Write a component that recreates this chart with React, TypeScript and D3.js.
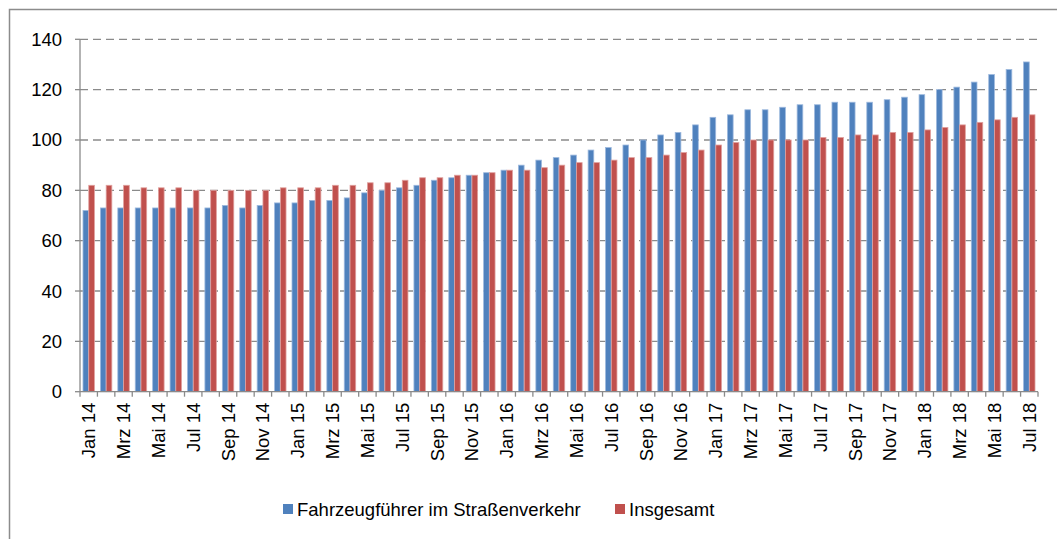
import React from "react";
import * as d3 from "d3";

const years = ["14", "15", "16", "17", "18"];
const monthNames = ["Jan", "Feb", "Mrz", "Apr", "Mai", "Jun", "Jul", "Aug", "Sep", "Okt", "Nov", "Dez"];
const categories: string[] = [];
years.forEach((y, yi) => {
  const n = yi === 4 ? 7 : 12;
  for (let m = 0; m < n; m++) categories.push(`${monthNames[m]} ${y}`);
});

const fahrzeugfuehrer = [
  72, 73, 73, 73, 73, 73, 73, 73, 74, 73, 74, 75,
  75, 76, 76, 77, 79, 80, 81, 82, 84, 85, 86, 87,
  88, 90, 92, 93, 94, 96, 97, 98, 100, 102, 103, 106,
  109, 110, 112, 112, 113, 114, 114, 115, 115, 115, 116, 117,
  118, 120, 121, 123, 126, 128, 131,
];
const insgesamt = [
  82, 82, 82, 81, 81, 81, 80, 80, 80, 80, 80, 81,
  81, 81, 82, 82, 83, 83, 84, 85, 85, 86, 86, 87,
  88, 88, 89, 90, 91, 91, 92, 93, 93, 94, 95, 96,
  98, 99, 100, 100, 100, 100, 101, 101, 102, 102, 103, 103,
  104, 105, 106, 107, 108, 109, 110,
];
const yTicks = [0, 20, 40, 60, 80, 100, 120, 140];
const seriesNames = ["Fahrzeugführer im Straßenverkehr", "Insgesamt"];
const colors = ["#4F81BD", "#C0504D"];
const edgeColors = ["#9DB9DE", "#E0A09E"];

export default function App() {
  const W = 1057, H = 539;
  const left = 80, right = 1038, top = 39.3, bottom = 391.7;
  const x = d3.scaleBand<string>().domain(categories).range([left, right]).paddingInner(0.33).paddingOuter(0.165);
  const xs = d3.scaleBand<string>().domain(["0", "1"]).range([0, x.bandwidth()]).padding(0.02);
  const y = d3.scaleLinear().domain([0, 140]).range([bottom, top]);
  const step = x.step();
  const font = "'Liberation Sans', Arial, sans-serif";
  const series = [fahrzeugfuehrer, insgesamt];
  const fs = 18.5;

  return (
    <svg width={W} height={H} style={{ position: "absolute", left: 0, top: 0 }} fontFamily={font}>
      <rect x={0} y={0} width={W} height={H} fill="#fff" />
      <rect x={9.5} y={9.5} width={1100} height={600} fill="none" stroke="#8c8c8c" strokeWidth={1.5} />
      {yTicks.map((t) => (
        <g key={t}>
          {t > 0 && (
            <line x1={left} x2={right} y1={y(t)} y2={y(t)} stroke="#8a8a8a" strokeWidth={1.3} strokeDasharray="8,5" />
          )}
          <line x1={left - 5} x2={left} y1={y(t)} y2={y(t)} stroke="#8a8a8a" strokeWidth={1.3} />
          <text x={62} y={y(t)} textAnchor="end" dominantBaseline="central" fontSize={fs} fill="#000">
            {t}
          </text>
        </g>
      ))}
      {series.map((vals, si) =>
        vals.map((v, i) => {
          const bx = (x(categories[i]) as number) + (xs(String(si)) as number);
          return (
            <rect
              key={`${si}-${i}`}
              x={bx}
              y={y(v)}
              width={xs.bandwidth()}
              height={bottom - y(v)}
              fill={colors[si]}
              stroke={edgeColors[si]}
              strokeWidth={0.8}
            />
          );
        })
      )}
      <line x1={left} x2={left} y1={top} y2={bottom} stroke="#8a8a8a" strokeWidth={1.3} />
      <line x1={left} x2={right} y1={bottom} y2={bottom} stroke="#8a8a8a" strokeWidth={1.3} />
      {d3.range(categories.length + 1).map((i) => (
        <line key={i} x1={left + i * step} x2={left + i * step} y1={bottom} y2={bottom + 5} stroke="#8a8a8a" strokeWidth={1.3} />
      ))}
      {categories.map((c, i) =>
        i % 2 === 0 ? (
          <text
            key={c}
            transform={`translate(${(x(c) as number) + x.bandwidth() / 2},${bottom + 11}) rotate(-90)`}
            textAnchor="end"
            dominantBaseline="central"
            fontSize={fs}
            fill="#000"
          >
            {c}
          </text>
        ) : null
      )}
      {seriesNames.map((n, i) => {
        const lx = i === 0 ? 283 : 615;
        return (
          <g key={n}>
            <rect x={lx} y={504} width={10} height={10} fill={colors[i]} />
            <text x={lx + 14} y={509.5} dominantBaseline="central" fontSize={fs} fill="#000">
              {n}
            </text>
          </g>
        );
      })}
    </svg>
  );
}
